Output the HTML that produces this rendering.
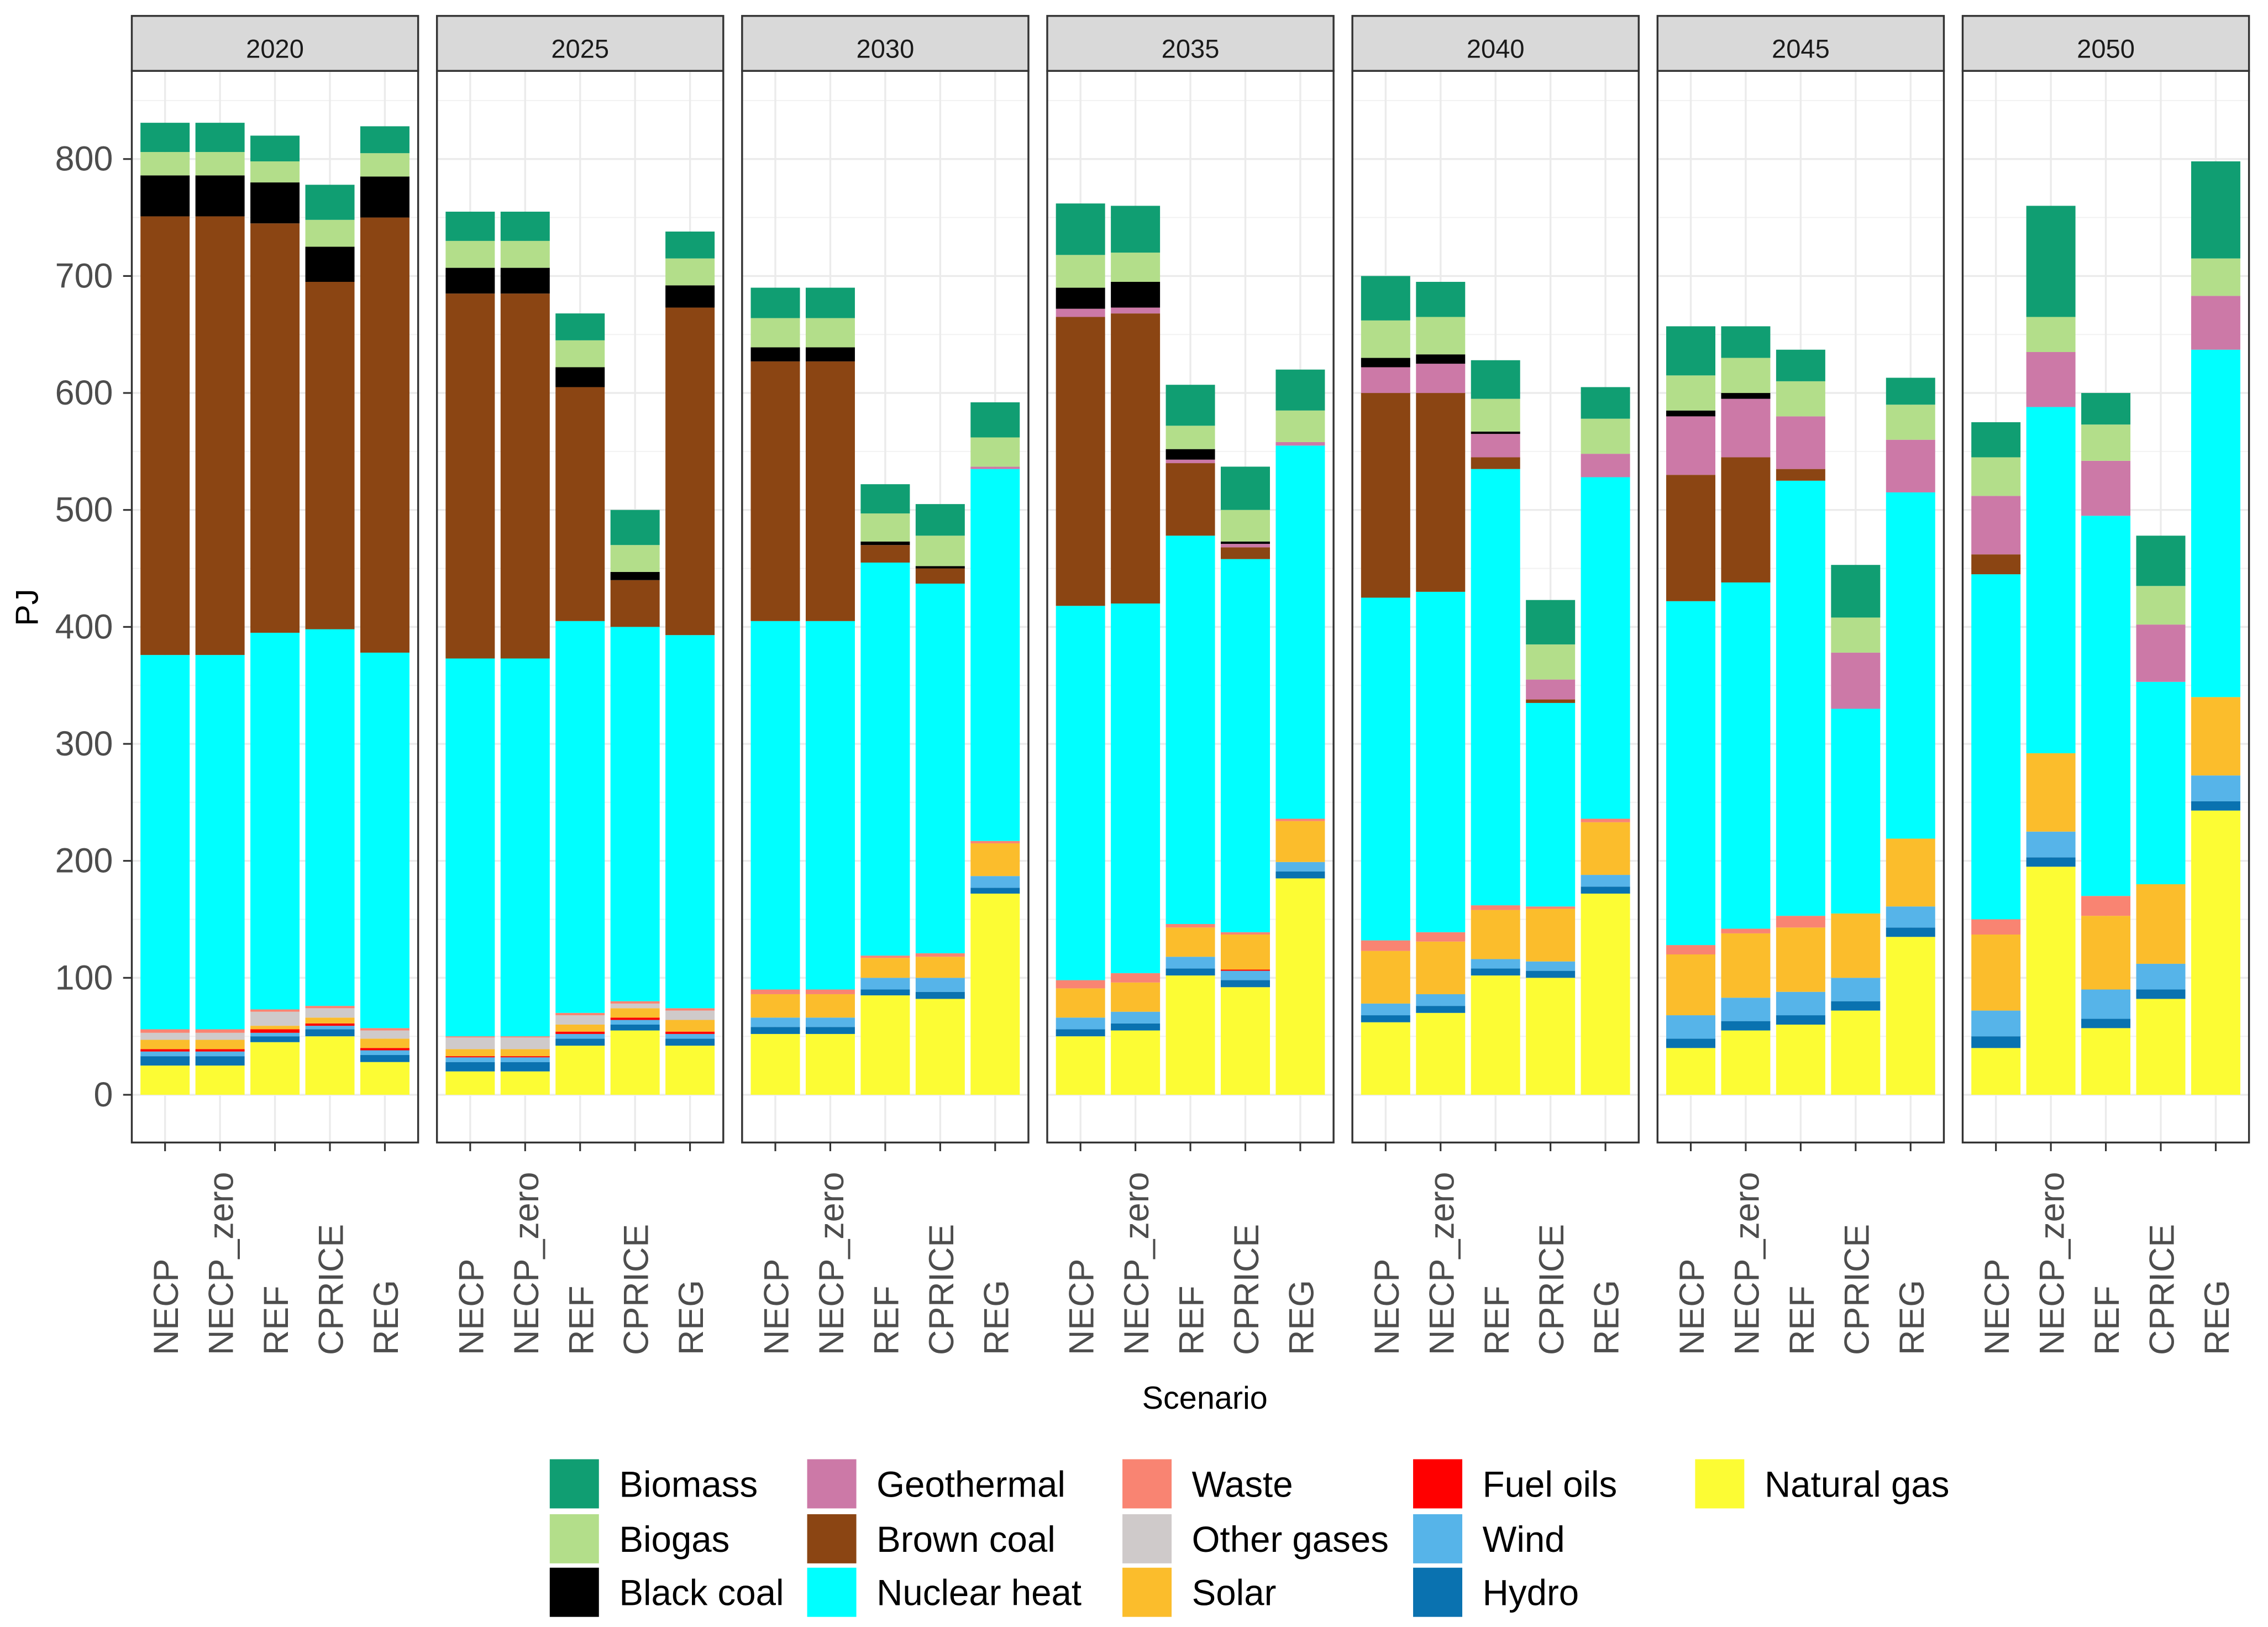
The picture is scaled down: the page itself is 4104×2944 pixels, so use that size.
<!DOCTYPE html>
<html><head><meta charset="utf-8">
<style>
html,body{margin:0;padding:0;background:#fff;}
svg{display:block;}
text{font-family:"Liberation Sans",Arial,sans-serif;}
</style></head>
<body>
<svg id="chart" width="4104" height="2944" viewBox="0 0 1568 1125" xmlns="http://www.w3.org/2000/svg"></svg>
<script>
const years = ["2020","2025","2030","2035","2040","2045","2050"];
const scenarios = ["NECP","NECP_zero","REF","CPRICE","REG"];
const categories = ["Natural gas","Hydro","Wind","Fuel oils","Solar","Other gases","Waste","Nuclear heat","Brown coal","Geothermal","Black coal","Biogas","Biomass"];
const colors = ["#fcfc34","#0a72b0","#56b4e9","#ff0000","#fbbd2c","#cfcaca","#f98472","#00ffff","#8b4513","#cc79a7","#000000","#b3de8a","#109e72"];
// values per year-block of 5 scenarios (NECP, NECP_zero, REF, CPRICE, REG)
const naturalGas = [25,25,45,50,28, 20,20,42,55,42, 52,52,85,82,172, 50,55,102,92,185, 62,70,102,100,172, 40,55,60,72,135, 40,195,57,82,243];
const hydro      = [8,8,5,6,6, 8,8,6,5,6, 6,6,5,6,5, 6,6,6,6,6, 6,6,6,6,6, 8,8,8,8,8, 10,8,8,8,8];
const wind       = [4,4,3,3,4, 4,4,4,4,4, 8,8,10,12,10, 10,10,10,8,8, 10,10,8,8,10, 20,20,20,20,18, 22,22,25,22,22];
const fuelOils   = [2,2,3,2,2, 1,1,2,2,2, 0,0,0,0,0, 0,0,0,1,0, 0,0,0,0,0, 0,0,0,0,0, 0,0,0,0,0];
const solar      = [8,8,3,5,8, 6,6,6,8,10, 20,20,17,18,28, 25,25,25,30,35, 45,45,42,45,45, 52,55,55,55,58, 65,67,63,68,67];
const otherGases = [6,6,12,8,7, 10,10,8,4,8, 0,0,0,0,0, 0,0,0,0,0, 0,0,0,0,0, 0,0,0,0,0, 0,0,0,0,0];
const waste      = [3,3,2,2,2, 1,1,2,2,2, 4,4,2,3,2, 7,8,3,2,2, 9,8,4,2,3, 8,4,10,0,0, 13,0,17,0,0];
const nuclear    = [320,320,322,322,321, 323,323,335,320,319, 315,315,336,316,318, 320,316,332,319,319, 293,291,373,174,292, 294,296,372,175,296, 295,296,325,173,297];
const brownCoal  = [375,375,350,297,372, 312,312,200,40,280, 222,222,15,13,0, 247,248,62,10,0, 175,170,10,3,0, 108,107,10,0,0, 17,0,0,0,0];
const geothermal = [0,0,0,0,0, 0,0,0,0,0, 0,0,0,0,2, 7,5,3,3,3, 22,25,20,17,20, 50,50,45,48,45, 50,47,47,49,46];
const blackCoal  = [35,35,35,30,35, 22,22,17,7,19, 12,12,3,2,0, 18,22,9,2,0, 8,8,2,0,0, 5,5,0,0,0, 0,0,0,0,0];
const biogas     = [20,20,18,23,20, 23,23,23,23,23, 25,25,24,26,25, 28,25,20,27,27, 32,32,28,30,30, 30,30,30,30,30, 33,30,31,33,32];
const biomass    = [25,25,22,30,23, 25,25,23,30,23, 26,26,25,27,30, 44,40,35,37,35, 38,30,33,38,27, 42,27,27,45,23, 30,95,27,43,83];
const series = [naturalGas,hydro,wind,fuelOils,solar,otherGases,waste,nuclear,brownCoal,geothermal,blackCoal,biogas,biomass];
const yTicks = [0,100,200,300,400,500,600,700,800];

const NS="http://www.w3.org/2000/svg";
const svg=document.getElementById('chart');
function mk(tag,attrs,parent){const e=document.createElementNS(NS,tag);for(const k in attrs)e.setAttribute(k,attrs[k]);(parent||svg).appendChild(e);return e;}
const panelX0=[91,302,513,724,935,1146,1357], panelW=198, panelTop=49, panelBot=790, stripTop=11;
function yScale(v){return 757 - v*0.8088;}
function xScale(p,s){return panelX0[p]+23+s*38;}
const barW=34;

yTicks.forEach(t=>{
  const tx=mk('text',{x:78,y:yScale(t)+8,'text-anchor':'end','font-size':24,fill:'#4d4d4d'});
  
  
  tx.textContent=t;
  const tk=mk('line',{x1:85,x2:91,y1:yScale(t),y2:yScale(t),stroke:'#333','stroke-width':1.2});
  
  
});
const yt=mk('text',{x:0,y:0,transform:'translate(26,420) rotate(-90)','text-anchor':'middle','font-size':22,fill:'#000'});


yt.textContent='PJ';

years.forEach((yr,p)=>{
  const x0=panelX0[p];
  const g=mk('g',{});
  
  
  mk('rect',{x:x0,y:panelTop,width:panelW,height:panelBot-panelTop,fill:'#fff'},g);
  for(let v=50;v<=850;v+=100){ if(yScale(v)>panelTop) mk('line',{x1:x0,x2:x0+panelW,y1:yScale(v),y2:yScale(v),stroke:'#f2f2f2','stroke-width':0.8},g);}
  yTicks.forEach(t=>mk('line',{x1:x0,x2:x0+panelW,y1:yScale(t),y2:yScale(t),stroke:'#ebebeb','stroke-width':1.3},g));
  scenarios.forEach((sc,s)=>mk('line',{x1:xScale(p,s),x2:xScale(p,s),y1:panelTop,y2:panelBot,stroke:'#ebebeb','stroke-width':1.3},g));
  scenarios.forEach((sc,s)=>{
    const idx=p*5+s; let cum=0;
    series.forEach((arr,c)=>{
      const v=arr[idx]; if(v<=0) return;
      const r=mk('rect',{x:xScale(p,s)-barW/2,y:yScale(cum+v),width:barW,height:v*0.8088,fill:colors[c]},g);
      
      
      cum+=v;
    });
    mk('line',{x1:xScale(p,s),x2:xScale(p,s),y1:panelBot,y2:panelBot+6,stroke:'#333','stroke-width':1.2},g);
    const lx=xScale(p,s)+9;
    const lt=mk('text',{x:0,y:0,transform:'translate('+lx+',937) rotate(-90)','text-anchor':'start','font-size':24,fill:'#4d4d4d'},g);
    
    
    lt.textContent=sc;
  });
  mk('rect',{x:x0,y:panelTop,width:panelW,height:panelBot-panelTop,fill:'none',stroke:'#333','stroke-width':1.3},g);
  const st=mk('rect',{x:x0,y:stripTop,width:panelW,height:panelTop-stripTop,fill:'#d9d9d9',stroke:'#333','stroke-width':1.3},g);
  
  
  const stt=mk('text',{x:x0+panelW/2,y:40,'text-anchor':'middle','font-size':18,fill:'#1a1a1a'},g);
  
  
  stt.textContent=yr;
});
const xt=mk('text',{x:833,y:974,'text-anchor':'middle','font-size':22,fill:'#000'});


xt.textContent='Scenario';

const legOrder=[["Biomass",12],["Biogas",11],["Black coal",10],["Geothermal",9],["Brown coal",8],["Nuclear heat",7],["Waste",6],["Other gases",5],["Solar",4],["Fuel oils",3],["Wind",2],["Hydro",1],["Natural gas",0]];
const colX=[380,558,776,977,1172], rowY=[1009,1047,1084];
legOrder.forEach((it,i)=>{
  const col=Math.floor(i/3), row=i%3;
  const g=mk('g',{});
  
  
  mk('rect',{x:colX[col],y:rowY[row],width:34,height:34,fill:colors[it[1]]},g);
  const t=mk('text',{x:colX[col]+48,y:rowY[row]+26,'font-size':25,fill:'#000'},g);
  t.textContent=it[0];
});
</script>
</body></html>
